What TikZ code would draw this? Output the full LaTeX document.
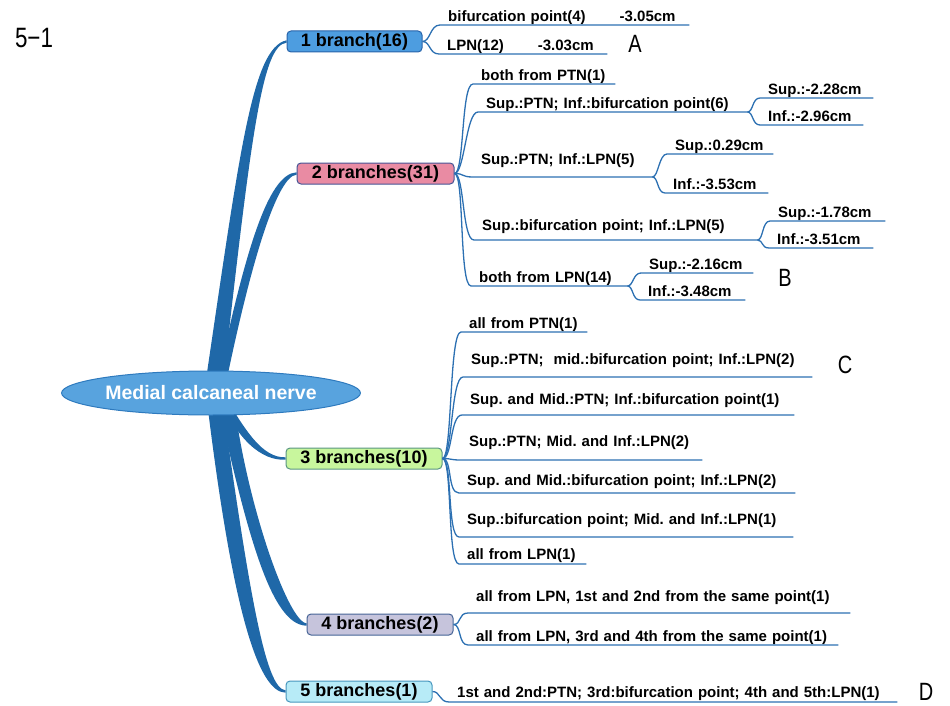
\documentclass[tikz,border=0pt]{standalone}
\usepackage{fontspec}
\setmainfont{Liberation Sans}
\newfontfamily\tagfont[FakeStretch=0.8]{Liberation Sans}
\usetikzlibrary{calc,shapes.geometric,backgrounds}
\definecolor{nerve}{RGB}{31,104,168}
\definecolor{twigc}{RGB}{44,112,178}
\definecolor{rootfill}{RGB}{88,163,222}
\definecolor{rootline}{RGB}{46,122,190}
\definecolor{fillA}{RGB}{77,157,224}
\definecolor{fillB}{RGB}{233,139,163}
\definecolor{fillC}{RGB}{200,246,157}
\definecolor{fillD}{RGB}{198,196,220}
\definecolor{fillE}{RGB}{183,235,247}
\definecolor{lineA}{RGB}{40,100,170}
\definecolor{lineB}{RGB}{70,85,150}
\definecolor{lineC}{RGB}{90,150,130}
\definecolor{lineD}{RGB}{70,100,150}
\definecolor{lineE}{RGB}{70,150,190}
\tikzset{
  trunk/.style={fill=nerve},
  twig/.style={draw=twigc,line width=1.3pt},
  rootnode/.style={ellipse,draw=rootline,line width=1pt,fill=rootfill,text=white,
    minimum width=257pt,minimum height=44pt,inner sep=0pt,font=\fontsize{19.5}{22}\selectfont\bfseries},
  brbox/.style={rectangle,rounded corners=4pt,line width=1pt,minimum height=21pt,inner sep=0pt,
    font=\fontsize{18}{20}\selectfont\bfseries},
  leaf/.style={anchor=south west,inner xsep=8pt,inner ysep=0pt,text depth=3.5pt,
    font=\fontsize{15}{17}\selectfont\bfseries,
    execute at begin node={\leavevmode\hbox\bgroup},execute at end node={\egroup}},
  tagl/.style={font=\tagfont\fontsize{25}{28}\selectfont,inner sep=0pt}
}
\begin{document}
\frenchspacing
\begin{tikzpicture}[x=1pt,y=-1pt]
\useasboundingbox (0,0) rectangle (950,706);
\node[tagl,font=\tagfont\fontsize{28}{30}\selectfont] (t51) at (34,38) {5−1};
\node[rootnode] (root) at (211,393) {Medial calcaneal nerve};
\node[brbox,fill=fillA,draw=lineA,minimum width=135pt] (b1) at (354.5,41.5) {1 branch(16)};
\node[brbox,fill=fillB,draw=lineB,minimum width=157pt] (b2) at (375.5,173.5) {2 branches(31)};
\node[brbox,fill=fillC,draw=lineC,minimum width=156pt] (b3) at (364,458.5) {3 branches(10)};
\node[brbox,fill=fillD,draw=lineD,minimum width=146pt] (b4) at (380,624.5) {4 branches(2)};
\node[brbox,fill=fillE,draw=lineE,minimum width=146pt] (b5) at (359,691.5) {5 branches(1)};
\begin{pgfonlayer}{background}
\fill[trunk] ($(root.center)+(-7,0)$) .. controls (240,150) and (252,48) .. ($(b1.west)+(0,-1.2)$)
  -- ($(b1.west)+(0,1.2)$) .. controls (262,45) and (251,135) .. ($(root.center)+(11,0)$) -- cycle;
\fill[trunk] ($(root.center)+(4,0)$) .. controls (245,250) and (268,174) .. ($(b2.west)+(0,-1.2)$)
  -- ($(b2.west)+(0,1.2)$) .. controls (278,176) and (252,255) .. ($(root.center)+(13,0)$) -- cycle;
\fill[trunk] ($(root.center)+(7,0)$) .. controls (236,440) and (262,461) .. ($(b3.west)+(0,1.2)$)
  -- ($(b3.west)+(0,-1.2)$) .. controls (262,458) and (245,430) .. ($(root.center)+(12,0)$) -- cycle;
\fill[trunk] ($(root.center)+(5,0)$) .. controls (248,540) and (272,625) .. ($(b4.west)+(0,1.2)$)
  -- ($(b4.west)+(0,-1.2)$) .. controls (288,622) and (245,500) .. ($(root.center)+(22,0)$) -- cycle;
\fill[trunk] ($(root.center)+(-5,0)$) .. controls (232,610) and (258,692) .. ($(b5.west)+(0,1.2)$)
  -- ($(b5.west)+(0,-1.2)$) .. controls (266,689) and (250,600) .. ($(root.center)+(10,0)$) -- cycle;
\end{pgfonlayer}
\node[leaf,text width=233pt] (l1a) at (440,25) {bifurcation point(4)\hspace*{34pt}-3.05cm};
\node[leaf,text width=152pt] (l1b) at (439,54) {LPN(12)\hspace*{34pt}-3.03cm};
\node[leaf,text width=126pt] (l2a) at (473,84) {both from PTN(1)};
\node[leaf,text width=253pt] (l2b) at (478,112) {Sup.:PTN; Inf.:bifurcation point(6)};
\node[leaf,text width=163pt,text depth=12pt] (l2c) at (473,177) {Sup.:PTN; Inf.:LPN(5)};
\node[leaf,text width=267pt,text depth=9pt] (l2d) at (474,240) {Sup.:bifurcation point; Inf.:LPN(5)};
\node[leaf,text width=140pt] (l2e) at (471,286) {both from LPN(14)};
\node[leaf,text width=97pt] (s2b) at (760,98) {Sup.:-2.28cm};
\node[leaf,text width=87pt] (i2b) at (760,125) {Inf.:-2.96cm};
\node[leaf,text width=90pt] (s2c) at (667,154) {Sup.:0.29cm};
\node[leaf,text width=87pt] (i2c) at (665,193) {Inf.:-3.53cm};
\node[leaf,text width=99pt] (s2d) at (770,221) {Sup.:-1.78cm};
\node[leaf,text width=88pt] (i2d) at (769,248) {Inf.:-3.51cm};
\node[leaf,text width=96pt] (s2e) at (641,273) {Sup.:-2.16cm};
\node[leaf,text width=89pt] (i2e) at (640,300) {Inf.:-3.48cm};
\node[leaf,text width=110pt] (l3a) at (461,332) {all from PTN(1)};
\node[leaf,text width=333pt,text depth=12pt] (l3b) at (463,377) {Sup.:PTN;~ mid.:bifurcation point; Inf.:LPN(2)};
\node[leaf,text width=316pt,text depth=10pt] (l3c) at (462,415) {Sup. and Mid.:PTN; Inf.:bifurcation point(1)};
\node[leaf,text width=225pt,text depth=13pt] (l3d) at (461,460) {Sup.:PTN; Mid. and Inf.:LPN(2)};
\node[leaf,text width=320pt,text depth=7pt] (l3e) at (459,493) {Sup. and Mid.:bifurcation point; Inf.:LPN(2)};
\node[leaf,text width=318pt,text depth=12pt] (l3f) at (459,537) {Sup.:bifurcation point; Mid. and Inf.:LPN(1)};
\node[leaf,text width=111pt,text depth=4pt] (l3g) at (459,564) {all from LPN(1)};
\node[leaf,text width=366pt,text depth=11pt] (l4a) at (468,613) {all from LPN, 1st and 2nd from the same point(1)};
\node[leaf,text width=354pt] (l4b) at (468,645) {all from LPN, 3rd and 4th from the same point(1)};
\node[leaf,text width=432pt,text depth=4pt] (l5a) at (449,702) {1st and 2nd:PTN; 3rd:bifurcation point; 4th and 5th:LPN(1)};
\draw[twig] (b1.east) .. controls +(8,0) and +(-10,0) .. (l1a.south west) -- (l1a.south east);
\draw[twig] (b1.east) .. controls +(8,0) and +(-10,0) .. (l1b.south west) -- (l1b.south east);
\draw[twig] (b2.east) .. controls +(10,0) and +(-12,0) .. (l2a.south west) -- (l2a.south east);
\draw[twig] (b2.east) .. controls +(10,0) and +(-12,0) .. (l2b.south west) -- (l2b.south east);
\draw[twig] (b2.east) .. controls +(10,0) and +(-12,0) .. (l2c.south west) -- (l2c.south east);
\draw[twig] (b2.east) .. controls +(10,0) and +(-12,0) .. (l2d.south west) -- (l2d.south east);
\draw[twig] (b2.east) .. controls +(10,0) and +(-12,0) .. (l2e.south west) -- (l2e.south east);
\draw[twig] (l2b.south east) .. controls +(6,0) and +(-8,0) .. (s2b.south west) -- (s2b.south east);
\draw[twig] (l2b.south east) .. controls +(6,0) and +(-8,0) .. (i2b.south west) -- (i2b.south east);
\draw[twig] (l2c.south east) .. controls +(6,0) and +(-8,0) .. (s2c.south west) -- (s2c.south east);
\draw[twig] (l2c.south east) .. controls +(6,0) and +(-8,0) .. (i2c.south west) -- (i2c.south east);
\draw[twig] (l2d.south east) .. controls +(6,0) and +(-8,0) .. (s2d.south west) -- (s2d.south east);
\draw[twig] (l2d.south east) .. controls +(6,0) and +(-8,0) .. (i2d.south west) -- (i2d.south east);
\draw[twig] (l2e.south east) .. controls +(6,0) and +(-8,0) .. (s2e.south west) -- (s2e.south east);
\draw[twig] (l2e.south east) .. controls +(6,0) and +(-8,0) .. (i2e.south west) -- (i2e.south east);
\draw[twig] (b3.east) .. controls +(10,0) and +(-12,0) .. (l3a.south west) -- (l3a.south east);
\draw[twig] (b3.east) .. controls +(10,0) and +(-12,0) .. (l3b.south west) -- (l3b.south east);
\draw[twig] (b3.east) .. controls +(10,0) and +(-12,0) .. (l3c.south west) -- (l3c.south east);
\draw[twig] (b3.east) .. controls +(10,0) and +(-12,0) .. (l3d.south west) -- (l3d.south east);
\draw[twig] (b3.east) .. controls +(10,0) and +(-12,0) .. (l3e.south west) -- (l3e.south east);
\draw[twig] (b3.east) .. controls +(10,0) and +(-12,0) .. (l3f.south west) -- (l3f.south east);
\draw[twig] (b3.east) .. controls +(10,0) and +(-12,0) .. (l3g.south west) -- (l3g.south east);
\draw[twig] (b4.east) .. controls +(8,0) and +(-10,0) .. (l4a.south west) -- (l4a.south east);
\draw[twig] (b4.east) .. controls +(8,0) and +(-10,0) .. (l4b.south west) -- (l4b.south east);
\draw[twig] (b5.east) .. controls +(8,0) and +(-10,0) .. (l5a.south west) -- (l5a.south east);
\node[tagl] (tA) at (635,44) {A};
\node[tagl] (tB) at (785,278) {B};
\node[tagl] (tC) at (845,365) {C};
\node[tagl] (tD) at (926,692) {D};
\end{tikzpicture}
\end{document}
